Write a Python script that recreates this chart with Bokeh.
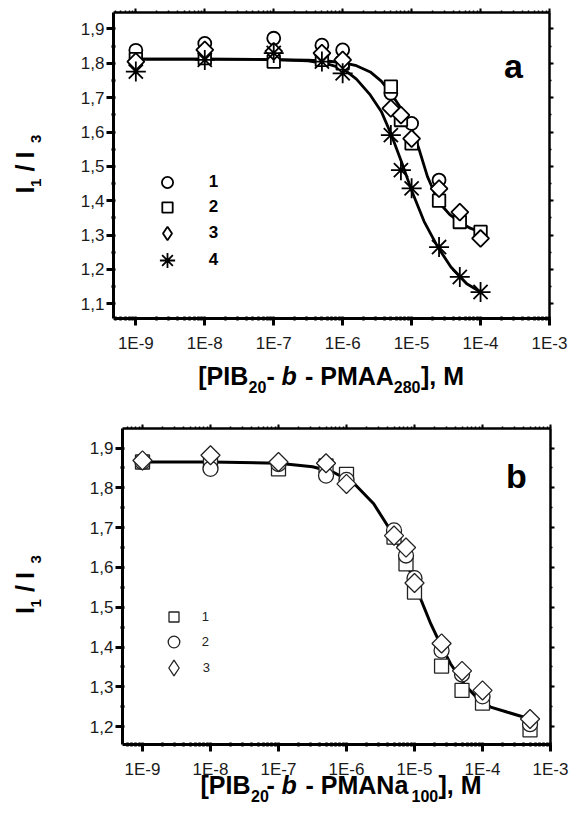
import numpy as np
from bokeh.plotting import figure
from bokeh.models import (Range1d, LinearAxis, LogAxis, LogTicker, SingleIntervalTicker,
                          CustomJSTickFormatter, Label, Legend, LegendItem)
from bokeh.layouts import column
from bokeh.embed import file_html
from bokeh.resources import INLINE

FONT = "Liberation Sans"
W = 572

# ---------------- panel a data ----------------
conc_a = [1e-9, 1e-8, 1e-7, 5e-7, 1e-6, 5e-6, 7e-6, 1e-5, 2.5e-5, 5e-5, 1e-4]
a_1 = [1.838, 1.858, 1.873, 1.853, 1.839, 1.713, None, 1.625, 1.460, None, None]
a_2 = [1.812, 1.815, 1.805, 1.810, 1.800, 1.732, 1.635, 1.567, 1.400, 1.338, 1.309]
a_3 = [1.805, 1.839, 1.835, 1.830, 1.810, 1.669, 1.649, 1.581, 1.435, 1.367, 1.290]
a_4 = [1.776, 1.810, 1.830, 1.805, 1.771, 1.591, 1.489, 1.436, 1.265, 1.178, 1.134]
a_labels = ["1", "2", "3", "4"]

fit_a_upper_logc = [-9, -8, -7, -6.5, -6.2, -6.0, -5.8, -5.6, -5.44, -5.3, -5.15,
                    -5.0, -4.9, -4.77, -4.65, -4.55, -4.45, -4.3, -4.15, -4.0]
fit_a_upper_val = [1.812, 1.812, 1.811, 1.809, 1.806, 1.802, 1.793, 1.775, 1.748, 1.713, 1.668,
                   1.610, 1.555, 1.470, 1.415, 1.383, 1.360, 1.337, 1.320, 1.309]
fit_a_lower_logc = [-9, -8, -7, -6.5, -6.2, -6.0, -5.8, -5.6, -5.44, -5.3, -5.15,
                    -5.0, -4.82, -4.62, -4.43, -4.2, -4.0]
fit_a_lower_val = [1.812, 1.812, 1.811, 1.807, 1.797, 1.785, 1.754, 1.708, 1.660, 1.595, 1.515,
                   1.430, 1.340, 1.265, 1.207, 1.158, 1.134]

# ---------------- panel b data ----------------
conc_b = [1e-9, 1e-8, 1e-7, 5e-7, 1e-6, 5e-6, 7.5e-6, 1e-5, 2.5e-5, 5e-5, 1e-4, 5e-4]
b_1 = [1.865, 1.860, 1.848, 1.855, 1.834, 1.676, 1.609, 1.538, 1.352, 1.291, 1.259, 1.192]
b_2 = [1.865, 1.848, 1.860, 1.831, 1.820, 1.693, 1.630, 1.573, 1.391, 1.331, 1.276, 1.206]
b_3 = [1.869, 1.882, 1.865, 1.862, 1.810, 1.680, 1.650, 1.561, 1.409, 1.340, 1.291, 1.219]
b_labels = ["1", "2", "3"]

fit_b_logc = [-9, -8, -7, -6.5, -6.2, -6.0, -5.86, -5.6, -5.4, -5.2, -5.05, -4.9, -4.76,
              -4.61, -4.47, -4.27, -4.07, -3.88, -3.63, -3.30]
fit_b_val = [1.865, 1.865, 1.862, 1.853, 1.840, 1.822, 1.806, 1.760, 1.706, 1.647, 1.584, 1.517,
             1.458, 1.404, 1.358, 1.307, 1.270, 1.249, 1.236, 1.219]

x_tick_code = "return '1E' + Math.round(Math.log10(tick));"
y_tick_code = "return tick.toFixed(1).replace('.', ',');"


def make_panel(H, box, lx, yr, x_standoff, y_standoff):
    """Frame covers the whole canvas; the plot box is drawn by axes at fixed locations."""
    L, R, T, B = box
    ppx = (R - L) / (lx[1] - lx[0])
    x0 = lx[0] - L / ppx
    x1 = lx[1] + (W - R) / ppx
    ppy = (B - T) / (yr[1] - yr[0])
    y0 = yr[0] - (H - B) / ppy
    y1 = yr[1] + T / ppy
    p = figure(width=W, height=H, x_axis_type="log",
               x_range=Range1d(10 ** x0, 10 ** x1), y_range=Range1d(y0, y1),
               min_border=0, output_backend="svg", toolbar_location=None)
    p.outline_line_color = None
    p.xgrid.visible = False
    p.ygrid.visible = False
    xlo, xhi = 10 ** lx[0], 10 ** lx[1] * 1.0005
    xa, ya = p.xaxis[0], p.yaxis[0]
    xa.fixed_location = yr[0]
    xa.bounds = (xlo, xhi)
    ya.fixed_location = xlo
    ya.bounds = (yr[0], yr[1])
    xa.ticker = LogTicker(num_minor_ticks=10)
    xa.formatter = CustomJSTickFormatter(code=x_tick_code)
    ya.ticker = SingleIntervalTicker(interval=0.1, num_minor_ticks=2)
    ya.formatter = CustomJSTickFormatter(code=y_tick_code)
    for ax in (xa, ya):
        ax.axis_line_width = 3
        ax.axis_line_color = "black"
        ax.major_tick_line_width = 3
        ax.major_tick_line_color = "black"
        ax.major_tick_out = 7
        ax.major_tick_in = 0
        ax.minor_tick_line_width = 2.5
        ax.minor_tick_line_color = "black"
        ax.minor_tick_out = 2
        ax.minor_tick_in = 2
        ax.major_label_text_font = FONT
        ax.major_label_text_font_size = "17px"
        ax.major_label_text_color = "#1a1a1a"
    xa.major_label_standoff = x_standoff
    ya.major_label_standoff = y_standoff
    blank = CustomJSTickFormatter(code="return '';")
    ra = LinearAxis(ticker=SingleIntervalTicker(interval=0.1, num_minor_ticks=2), formatter=blank,
                    fixed_location=xhi, bounds=(yr[0], yr[1]))
    ta = LogAxis(ticker=LogTicker(num_minor_ticks=10), formatter=blank,
                 fixed_location=yr[1], bounds=(xlo, xhi))
    for ax in (ra, ta):
        ax.axis_line_width = 2.5
        ax.major_tick_out = 4
        ax.major_tick_in = 0
        ax.major_tick_line_width = 2
        ax.minor_tick_out = 2
        ax.minor_tick_in = 0
        ax.minor_tick_line_width = 1.5
        ax.major_label_standoff = 0
        ax.major_label_text_font_size = "1px"
    p.add_layout(ra, "right")
    p.add_layout(ta, "above")
    return p


SHIFT = 0.33  # em correction between requested baseline and rendered baseline


def txt(p, text, xs, ys, size, style="bold", angle=0.0, align="left"):
    if angle == 0:
        ys = ys + SHIFT * size
    else:
        xs = xs - SHIFT * size
    p.add_layout(Label(x=xs, y=ys, x_units="screen", y_units="screen", text=text,
                       text_font=FONT, text_font_size=f"{size}px", text_font_style=style,
                       text_color="black", text_align=align, text_baseline="alphabetic",
                       angle=angle))


def single_legend(p, r, label, cx, cy, msize, label_left, fsize, fstyle, color):
    gh = int(round(msize / 0.4))
    leg = Legend(items=[LegendItem(label=label, renderers=[r])],
                 location=(cx - gh / 2, cy - gh / 2), padding=0, margin=0, spacing=0,
                 glyph_width=gh, glyph_height=gh, label_height=gh,
                 label_standoff=int(round(label_left - cx - gh / 2)),
                 border_line_color=None, background_fill_alpha=0, inactive_fill_alpha=0,
                 label_text_font=FONT, label_text_font_size=f"{fsize}px",
                 label_text_font_style=fstyle, label_text_color=color)
    p.add_layout(leg)


def ylabel(p, x0, y0):
    a = np.pi / 2
    txt(p, "I", x0, y0, 25, angle=a)
    txt(p, "1", x0 + 7, y0 + 6.5, 15, angle=a)
    txt(p, "/", x0, y0 + 22, 25, angle=a)
    txt(p, "I", x0, y0 + 35, 25, angle=a)
    txt(p, "3", x0 + 7, y0 + 50.5, 15, angle=a)


# ======================= panel a =======================
HA = 400
pa = make_panel(HA, (113, 549, 12, 318), (-9.324, -3.0), (1.057, 1.948), 8, 2)

pa.line([10 ** v for v in fit_a_upper_logc], fit_a_upper_val, line_color="black", line_width=2.8)
pa.line([10 ** v for v in fit_a_lower_logc], fit_a_lower_val, line_color="black", line_width=2.8)

r_a1 = pa.scatter(conc_a, np.array(a_1, dtype=float), marker="circle", size=13,
                  line_color="black", line_width=1.8, fill_color="white")
r_a2 = pa.scatter(conc_a, a_2, marker="square", size=12.5, line_color="black",
                  line_width=1.8, fill_color="white")
r_a3 = pa.scatter(conc_a, a_3, marker="square", angle=np.pi / 4, size=12, line_color="black",
                  line_width=1.8, fill_color="white")
r_a4 = pa.scatter(conc_a, a_4, marker="asterisk", size=20, line_color="black", line_width=1.8)
# legend key for the diamond series (legend keys are drawn unrotated)
k_a3 = pa.scatter(conc_a[:1], a_3[:1], marker="diamond", size=13, line_color="black",
                  line_width=1.8, fill_color="white", visible=False)

leg_rows_a = [218.3, 192.7, 166.7, 140.0]
leg_sizes_a = [11, 10.5, 13.5, 15]
for r, lab, cy, ms in zip([r_a1, r_a2, k_a3, r_a4], a_labels, leg_rows_a, leg_sizes_a):
    single_legend(pa, r, lab, 166.7, cy, ms, 209, 17, "bold", "black")

# x axis title (a)
txt(pa, "[PIB", 197.7, 16.7, 25)
txt(pa, "20", 248, 8.5, 16)
txt(pa, "-", 266, 16.7, 25)
txt(pa, "b", 281, 16.7, 25, style="bold italic")
txt(pa, "- PMAA", 304.5, 16.7, 25)
txt(pa, "280", 393.3, 8.5, 16)
txt(pa, "], M", 420.5, 16.7, 25)

ylabel(pa, 33, 207)
txt(pa, "a", 513, 323.5, 34, align="center")

# ======================= panel b =======================
HB = 420
pb = make_panel(HB, (122, 550, 27.7, 344), (-9.294, -3.0), (1.155, 1.95), 8, 2)

pb.line([10 ** v for v in fit_b_logc], fit_b_val, line_color="black", line_width=3)
r_b1 = pb.scatter(conc_b, b_1, marker="square", size=14, line_color="#222222",
                  line_width=1.3, fill_color="white")
r_b2 = pb.scatter(conc_b, b_2, marker="circle", size=15, line_color="#222222",
                  line_width=1.3, fill_color="white")
r_b3 = pb.scatter(conc_b, b_3, marker="square", angle=np.pi / 4, size=13.5, line_color="#222222",
                  line_width=1.3, fill_color="white")
k_b3 = pb.scatter(conc_b[:1], b_3[:1], marker="diamond", size=15, line_color="#222222",
                  line_width=1.3, fill_color="white", visible=False)

leg_rows_b = [203.3, 178.3, 152.7]
leg_sizes_b = [10, 11.7, 15.6]
for r, lab, cy, ms in zip([r_b1, r_b2, k_b3], b_labels, leg_rows_b, leg_sizes_b):
    single_legend(pb, r, lab, 173.3, cy, ms, 202.3, 13, "normal", "#222222")

txt(pb, "[PIB", 200, 27, 25)
txt(pb, "20", 250.5, 19.5, 16)
txt(pb, "-", 266, 27, 25)
txt(pb, "b", 281, 27, 25, style="bold italic")
txt(pb, "- PMANa", 305, 27, 25)
txt(pb, "100", 411, 19.5, 16)
txt(pb, "], M", 438, 27, 25)

ylabel(pb, 33, 206.5)
txt(pb, "b", 516, 333.3, 34, align="center")

layout = column(pa, pb, spacing=0)
open("out.html", "w").write(file_html(layout, INLINE))
